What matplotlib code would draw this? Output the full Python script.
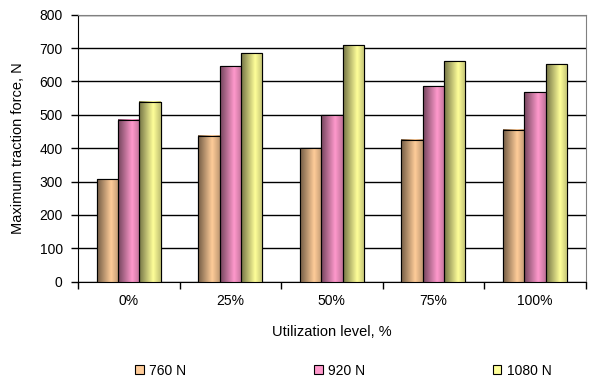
import numpy as np
import matplotlib.pyplot as plt
from matplotlib.colors import to_rgb

plt.rcParams['font.family'] = ['Liberation Sans', 'DejaVu Sans']

levels = ['0%', '25%', '50%', '75%', '100%']
series = ['760 N', '920 N', '1080 N']
f760 = [308, 438, 401, 426, 456]
f920 = [486, 645, 499, 587, 567]
f1080 = [540, 686, 708, 660, 651]
colors = ['#FFCC99', '#FF99CC', '#FFFF99']

fig = plt.figure(figsize=(6.06, 3.88), dpi=100)
ax = fig.add_axes([0.1287, 0.274, 0.8378, 0.688])

x = np.arange(len(levels))
w = 0.21
t = np.linspace(0, 1, 64)
# darker left edge, bright around 2/3, slightly darker right edge
prof = np.interp(t, [0, 0.65, 1], [0.45, 1.0, 0.75])

for i, (vals, c) in enumerate(zip([f760, f920, f1080], colors)):
    bars = ax.bar(x + (i - 1) * w, vals, w, color=c, edgecolor='black',
                  linewidth=0.8, zorder=3, label=series[i])
    base = np.array(to_rgb(c))
    grad = (prof[:, None] * base[None, :])[None, :, :]
    for b in bars:
        x0, y0, bw, bh = b.get_x(), b.get_y(), b.get_width(), b.get_height()
        ax.imshow(grad, extent=[x0, x0 + bw, y0, y0 + bh], aspect='auto',
                  zorder=3.5, interpolation='bilinear')
        ax.bar(x0 + bw / 2, bh, bw, fill=False, edgecolor='black',
               linewidth=0.8, zorder=4)

ax.set_xlim(-0.5, len(levels) - 0.5)
ax.set_ylim(0, 800)
ax.set_yticks(np.arange(0, 801, 100))
ax.yaxis.grid(True, color='black', linewidth=1)
ax.set_axisbelow(True)

ax.set_xticks(x)
ax.set_xticklabels(levels, fontsize=10)
ax.tick_params(axis='x', length=0, pad=9)
ax.set_xticks(np.arange(-0.5, len(levels)), minor=True)
ax.tick_params(axis='x', which='minor', length=5, width=1, direction='out')
ax.tick_params(axis='y', length=5, width=1, direction='out', labelsize=10, pad=6)

for s in ['top', 'right']:
    ax.spines[s].set_color('#808080')
for s in ['left', 'bottom']:
    ax.spines[s].set_color('black')

ax.set_ylabel('Maximum traction force, N', fontsize=10.5, labelpad=10)
ax.set_xlabel('Utilization level, %', fontsize=10.5, labelpad=12)

leg = fig.legend(loc='center', bbox_to_anchor=(0.567, 0.045), ncol=3,
                 frameon=False, fontsize=10, handlelength=0.6,
                 handleheight=0.6, handletextpad=0.4, columnspacing=9.2)
for h in leg.legend_handles:
    h.set_linewidth(0.8)

fig.savefig('out.png', dpi=100)
